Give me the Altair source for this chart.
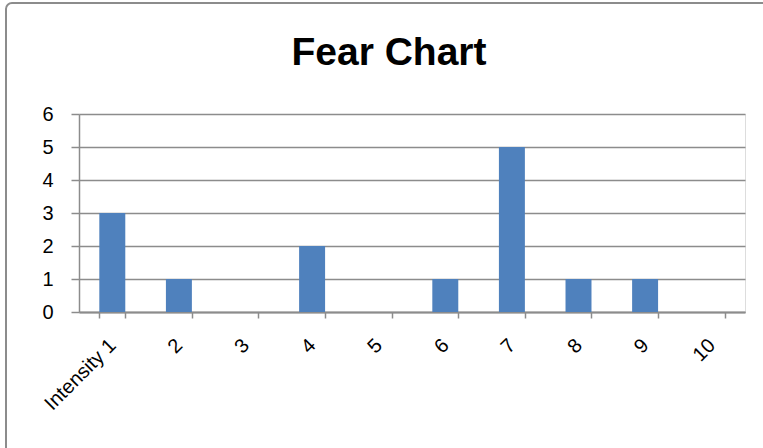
import altair as alt
import pandas as pd

categories = ["Intensity 1", "2", "3", "4", "5", "6", "7", "8", "9", "10"]
counts = [3, 1, 0, 2, 0, 1, 5, 1, 1, 0]
y_ticks = [0, 1, 2, 3, 4, 5, 6]
title_text = ["Fear Chart"]

df = pd.DataFrame({"intensity": categories, "count": counts})

FONT = "Liberation Sans"
GRAY = "#8c8c8c"

border = alt.Chart(pd.DataFrame({"k": [0]})).mark_rect(
    fillOpacity=0, stroke=GRAY, strokeWidth=2, cornerRadius=6
).encode(
    x=alt.value(-73), x2=alt.value(900), y=alt.value(-111), y2=alt.value(500)
)

title = alt.Chart(pd.DataFrame({"t": title_text})).mark_text(
    font=FONT, fontSize=39, fontWeight="bold", color="black",
    align="center", baseline="alphabetic",
).encode(text="t:N", x=alt.value(310), y=alt.value(-49))

bars = alt.Chart(df).mark_bar(color="#4F81BD").encode(
    x=alt.X(
        "intensity:N", sort=categories, title=None,
        scale=alt.Scale(paddingInner=0.61, paddingOuter=0.305),
        axis=alt.Axis(
            labelAngle=-45, labelAlign="right", labelBaseline="middle",
            tickBand="extent", tickSize=6, tickColor=GRAY, tickWidth=1.5,
            domainColor=GRAY, domainWidth=2, labelPadding=24,
            labelFont=FONT, labelFontSize=20, labelColor="black", grid=False,
        ),
    ),
    y=alt.Y(
        "count:Q", title=None, scale=alt.Scale(domain=[0, 6], nice=False),
        axis=alt.Axis(
            values=y_ticks, tickSize=8, tickColor=GRAY, tickWidth=1.5,
            domainColor=GRAY, domainWidth=1.5, labelPadding=18,
            labelFont=FONT, labelFontSize=20, labelColor="black",
            grid=True, gridColor=GRAY, gridWidth=1.5,
        ),
    ),
)

chart = alt.layer(border, title, bars).properties(
    width=666, height=198,
    autosize=alt.AutoSizeParams(type="none"),
    padding={"left": 79, "top": 114, "right": 18, "bottom": 136},
).configure_view(stroke=None).configure(background="white")

chart.save("out.html", embed_options={"renderer": "svg", "actions": False})
